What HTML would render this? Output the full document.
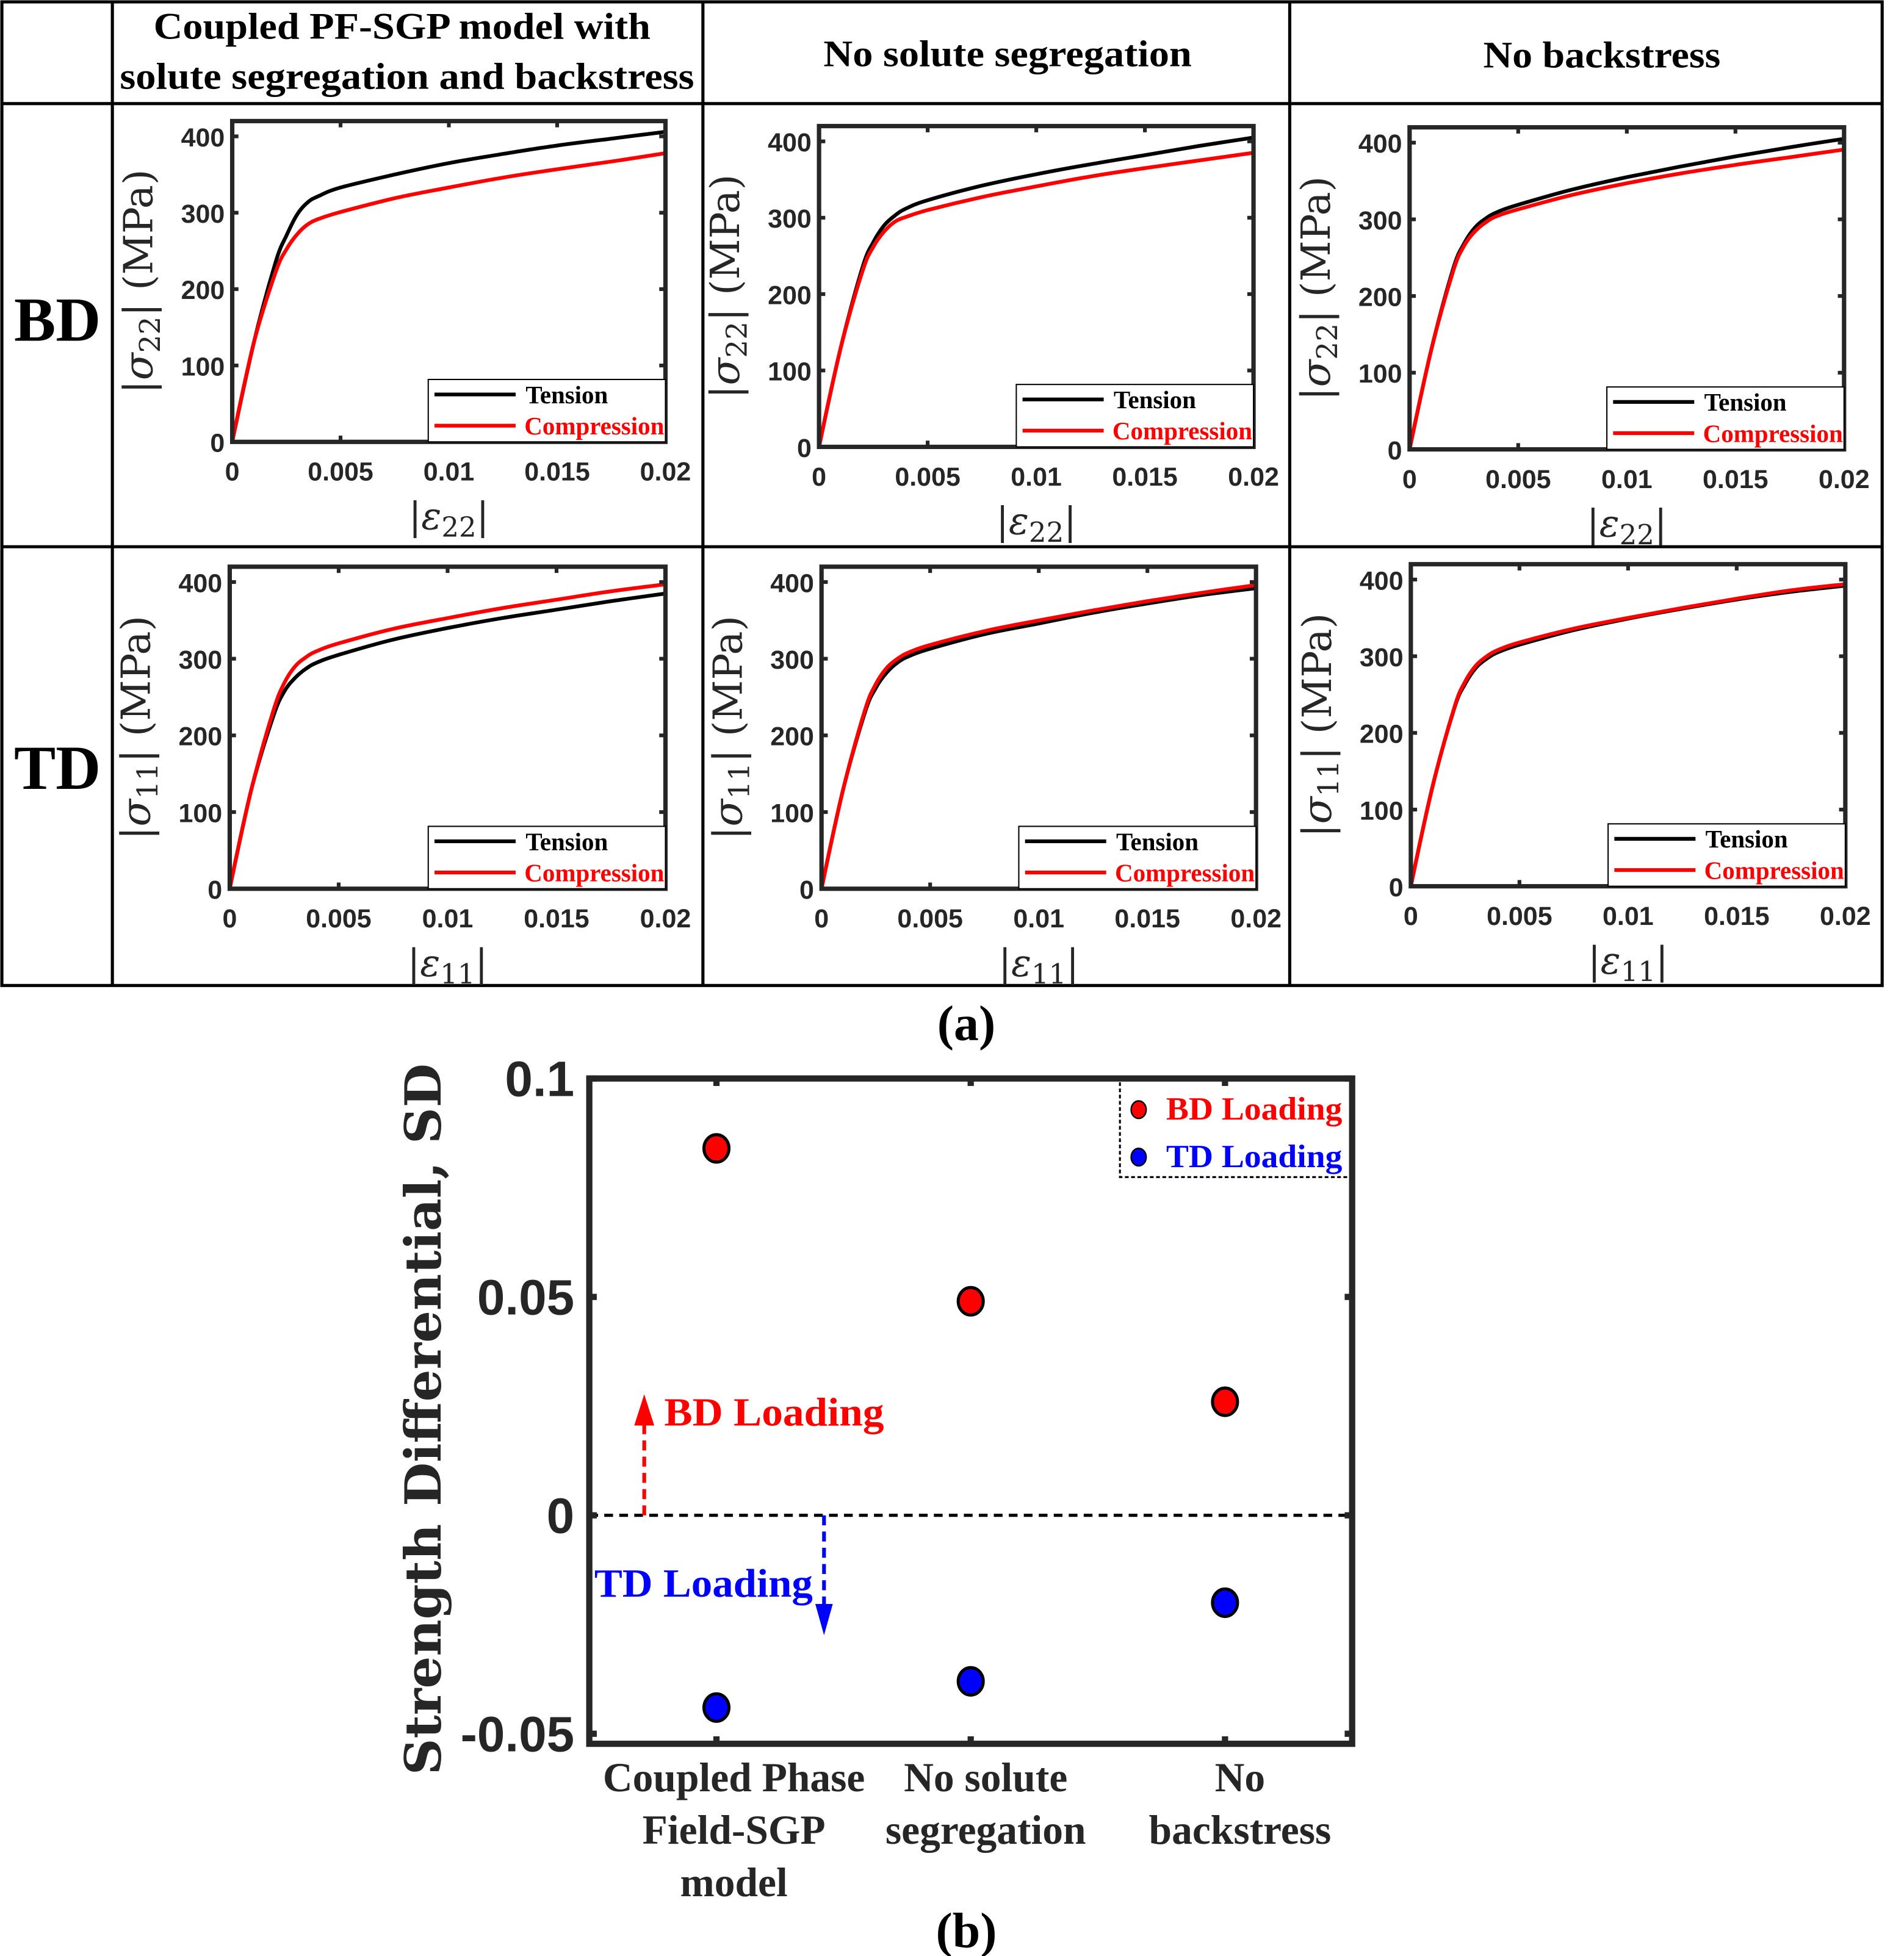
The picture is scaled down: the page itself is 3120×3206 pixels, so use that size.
<!DOCTYPE html>
<html><head><meta charset="utf-8">
<style>html,body{margin:0;padding:0;background:#fff;}svg{display:block;}</style>
</head><body>
<svg id="fig" xmlns="http://www.w3.org/2000/svg" width="3120" height="3206" viewBox="0 0 1525 1567" preserveAspectRatio="none">
<rect x="0" y="0" width="1525" height="1567" fill="#fff"/>
<g stroke="#000" stroke-width="2.5" fill="none">
<rect x="1.5" y="1.5" width="1506" height="788"/>
<line x1="90" y1="1.5" x2="90" y2="789.5"/>
<line x1="563" y1="1.5" x2="563" y2="789.5"/>
<line x1="1033" y1="1.5" x2="1033" y2="789.5"/>
<line x1="1.5" y1="83" x2="1507.5" y2="83"/>
<line x1="1.5" y1="438" x2="1507.5" y2="438"/>
</g>
<g font-family="Liberation Serif, serif" font-weight="bold" fill="#000" text-anchor="middle">
<text x="322" y="31" font-size="30" textLength="398" lengthAdjust="spacingAndGlyphs">Coupled PF-SGP model with</text>
<text x="326" y="71" font-size="30" textLength="460" lengthAdjust="spacingAndGlyphs">solute segregation and backstress</text>
<text x="807" y="53" font-size="30" textLength="295" lengthAdjust="spacingAndGlyphs">No solute segregation</text>
<text x="1283" y="54" font-size="30" textLength="190" lengthAdjust="spacingAndGlyphs">No backstress</text>
<text x="46" y="273" font-size="50">BD</text>
<text x="46" y="632" font-size="50">TD</text>
<text x="774" y="833" font-size="40">(a)</text>
<text x="774" y="1560" font-size="40">(b)</text>
</g>
<g id="panels"></g>
<g id="sdchart"></g>
</svg>
<script>
const NS='http://www.w3.org/2000/svg';
// ---------- Stress-strain data ----------
const strain=[0,0.001,0.002,0.0025,0.003,0.0035,0.004,0.005,0.0075,0.01,0.0125,0.015,0.0175,0.02];
const xTicks=[0,0.005,0.01,0.015,0.02];
const xTickLabels=['0','0.005','0.01','0.015','0.02'];
const yTicks=[0,100,200,300,400];
const bdCoupledTension=[0,130,235,270,298,314,322,333,350,365,377,388,397,406];
const bdCoupledCompression=[0,130,222,252,272,285,292,301,319,333,346,357,367,378];
const bdNoSegTension=[0,130,235,268,290,303,312,323,342,357,370,382,394,405];
const bdNoSegCompression=[0,130,230,262,282,295,301,310,327,341,354,365,375,385];
const bdNoBackTension=[0,130,235,268,289,301,309,319,339,355,369,382,394,405];
const bdNoBackCompression=[0,130,232,265,284,296,304,313,332,347,360,371,381,391];
const tdCoupledTension=[0,130,225,257,275,287,295,305,325,340,353,364,375,385];
const tdCoupledCompression=[0,130,232,268,290,302,310,320,339,353,366,377,388,397];
const tdNoSegTension=[0,130,230,262,282,295,303,313,332,346,360,372,383,392];
const tdNoSegCompression=[0,130,233,267,288,300,308,318,336,350,363,375,386,396];
const tdNoBackTension=[0,130,232,264,285,297,305,315,334,349,362,374,384,392];
const tdNoBackCompression=[0,130,233,267,288,300,308,318,336,350,363,375,386,394];

const panelDefs=[
 {name:'bd-coupled',x0:186,x1:533,y0:97,y1:354,t:bdCoupledTension,c:bdCoupledCompression,sub:'22'},
 {name:'bd-no-segregation',x0:656,x1:1004,y0:101,y1:358,t:bdNoSegTension,c:bdNoSegCompression,sub:'22'},
 {name:'bd-no-backstress',x0:1129,x1:1477,y0:102,y1:360,t:bdNoBackTension,c:bdNoBackCompression,sub:'22'},
 {name:'td-coupled',x0:184,x1:533,y0:454,y1:712,t:tdCoupledTension,c:tdCoupledCompression,sub:'11'},
 {name:'td-no-segregation',x0:658,x1:1006,y0:454,y1:712,t:tdNoSegTension,c:tdNoSegCompression,sub:'11'},
 {name:'td-no-backstress',x0:1130,x1:1478,y0:452,y1:710,t:tdNoBackTension,c:tdNoBackCompression,sub:'11'}
];
function mk(tag,attrs,parent){const e=document.createElementNS(NS,tag);for(const k in attrs)e.setAttribute(k,attrs[k]);parent.appendChild(e);return e;}
function smoothPath(pts){
 let d='M'+pts[0][0].toFixed(1)+','+pts[0][1].toFixed(1);
 for(let i=0;i<pts.length-1;i++){
  const p0=pts[Math.max(0,i-1)],p1=pts[i],p2=pts[i+1],p3=pts[Math.min(pts.length-1,i+2)];
  const k=(i==0)?0:1/6;
  const c1=[p1[0]+(p2[0]-p0[0])*k,p1[1]+(p2[1]-p0[1])*k];
  const c2=[p2[0]-(p3[0]-p1[0])/6,p2[1]-(p3[1]-p1[1])/6];
  d+='C'+c1[0].toFixed(1)+','+c1[1].toFixed(1)+' '+c2[0].toFixed(1)+','+c2[1].toFixed(1)+' '+p2[0].toFixed(1)+','+p2[1].toFixed(1);
 }
 return d;
}
const panelsG=document.getElementById('panels');
panelDefs.forEach(p=>{
 const g=mk('g',{},panelsG);
 
 
 const sx=v=>p.x0+(v-0)/(0.02-0)*(p.x1-p.x0);
 const sy=v=>p.y1-(v-0)/(420-0)*(p.y1-p.y0);
 [[p.t,'#000','tension-curve'],[p.c,'#f00','compression-curve']].forEach(([arr,col,nm])=>{
  const pts=arr.map((v,i)=>[sx(strain[i]),sy(v)]);
  const path=mk('path',{d:smoothPath(pts),fill:'none',stroke:col,'stroke-width':3,'stroke-linejoin':'round'},g);
  
  
 });
 const box=mk('rect',{x:p.x0,y:p.y0,width:p.x1-p.x0,height:p.y1-p.y0,fill:'none',stroke:'#262626','stroke-width':3.5},g);
 
 
 xTicks.forEach((v,i)=>{
  mk('line',{x1:sx(v),y1:p.y1,x2:sx(v),y2:p.y1-5,stroke:'#262626','stroke-width':3},g);
  mk('line',{x1:sx(v),y1:p.y0,x2:sx(v),y2:p.y0+5,stroke:'#262626','stroke-width':3},g);
  const t=mk('text',{x:sx(v),y:p.y1+31,'font-family':'Liberation Sans, sans-serif','font-weight':'bold','font-size':21,'text-anchor':'middle',fill:'#262626'},g);
  t.textContent=xTickLabels[i];
  
  
 });
 yTicks.forEach(v=>{
  mk('line',{x1:p.x0,y1:sy(v),x2:p.x0+5,y2:sy(v),stroke:'#262626','stroke-width':3},g);
  mk('line',{x1:p.x1,y1:sy(v),x2:p.x1-5,y2:sy(v),stroke:'#262626','stroke-width':3},g);
  const t=mk('text',{x:p.x0-6,y:sy(v)+8,'font-family':'Liberation Sans, sans-serif','font-weight':'bold','font-size':21,'text-anchor':'end',fill:'#262626'},g);
  t.textContent=String(v);
  
  
 });
 const lx=p.x1-190, ly=p.y1-50;
 const lg=mk('g',{},g);
 
 
 mk('rect',{x:lx,y:ly,width:190,height:50,fill:'#fff',stroke:'#000','stroke-width':1},lg);
 mk('line',{x1:lx+5,y1:ly+12,x2:lx+70,y2:ly+12,stroke:'#000','stroke-width':3},lg);
 mk('line',{x1:lx+5,y1:ly+37,x2:lx+70,y2:ly+37,stroke:'#f00','stroke-width':3},lg);
 const t1=mk('text',{x:lx+78,y:ly+19,'font-family':'Liberation Serif, serif','font-weight':'bold','font-size':20,fill:'#000'},lg);
 t1.textContent='Tension';
 
 
 const t2=mk('text',{x:lx+77,y:ly+44,'font-family':'Liberation Serif, serif','font-weight':'bold','font-size':20,fill:'#f00',textLength:112,lengthAdjust:'spacingAndGlyphs'},lg);
 t2.textContent='Compression';
 
 
 const xl=mk('text',{x:(p.x0+p.x1)/2,y:p.y1+70,'font-family':'DejaVu Serif, Liberation Serif, serif','font-size':30,'text-anchor':'middle',fill:'#262626'},g);
 xl.innerHTML='|<tspan font-style="italic">ε</tspan><tspan font-size="22" dy="6">'+p.sub+'</tspan><tspan dy="-6">|</tspan>';
 
 
 const cy=(p.y0+p.y1)/2, cx=p.x0-64;
 const yl=mk('text',{x:cx,y:cy,transform:'rotate(-90 '+cx+' '+cy+')','font-family':'DejaVu Serif, Liberation Serif, serif','font-size':32,'text-anchor':'middle',fill:'#262626'},g);
 yl.innerHTML='|<tspan font-style="italic">σ</tspan><tspan font-size="23" dy="6">'+p.sub+'</tspan><tspan dy="-6">|  (MPa)</tspan>';
 
 
});

// ---------- Strength differential chart ----------
const sdCategories=['Coupled Phase Field-SGP model','No solute segregation','No backstress'];
const sdBD=[0.084,0.049,0.026];
const sdTD=[-0.044,-0.038,-0.020];
const sdYTicks=[-0.05,0,0.05,0.1];
const sdYTickLabels=['-0.05','0','0.05','0.1'];
const sdCatLines=[['Coupled Phase','Field-SGP','model'],['No solute','segregation'],['No','backstress']];
(function(){
 const G=document.getElementById('sdchart');
 
 
 const X0=472,X1=1083,Y0=864,Y1=1397;
 const sx=i=>X0+(i+1-0.5)/3*(X1-X0);
 const ymin=-0.0523,ymax=0.1;
 const sy=v=>Y1-(v-ymin)/(ymax-ymin)*(Y1-Y0);
 const zl=mk('line',{x1:X0,y1:sy(0),x2:X1,y2:sy(0),stroke:'#000','stroke-width':2.5,'stroke-dasharray':'7 5'},G);
 
 
 const box=mk('rect',{x:X0,y:Y0,width:X1-X0,height:Y1-Y0,fill:'none',stroke:'#262626','stroke-width':5},G);
 
 
 sdYTicks.forEach((v,i)=>{
  mk('line',{x1:X0,y1:sy(v),x2:X0+6,y2:sy(v),stroke:'#262626','stroke-width':5},G);
  mk('line',{x1:X1,y1:sy(v),x2:X1-6,y2:sy(v),stroke:'#262626','stroke-width':5},G);
  const t=mk('text',{x:X0-12,y:sy(v)+14,'font-family':'Liberation Sans, sans-serif','font-weight':'bold','font-size':40,'text-anchor':'end',fill:'#262626'},G);
  t.textContent=sdYTickLabels[i];
  
  
 });
 sdCategories.forEach((c,i)=>{
  mk('line',{x1:sx(i),y1:Y1,x2:sx(i),y2:Y1-6,stroke:'#262626','stroke-width':5},G);
  mk('line',{x1:sx(i),y1:Y0,x2:sx(i),y2:Y0+6,stroke:'#262626','stroke-width':5},G);
  const t=mk('text',{x:sx(i)+14,y:Y1+38,'font-family':'Liberation Serif, serif','font-weight':'bold','font-size':33,'text-anchor':'middle',fill:'#262626'},G);
  t.innerHTML=sdCatLines[i].map((l,j)=>'<tspan x="'+(sx(i)+(i==0?14:12))+'" dy="'+(j?42:0)+'">'+l+'</tspan>').join('');
  
  
 });
 sdBD.forEach((v,i)=>{
  const c=mk('ellipse',{cx:sx(i),cy:sy(v),rx:10,ry:11,fill:'#f00',stroke:'#000','stroke-width':2.5},G);
  
  
 });
 sdTD.forEach((v,i)=>{
  const c=mk('ellipse',{cx:sx(i),cy:sy(v),rx:10,ry:11,fill:'#00f',stroke:'#000','stroke-width':2.5},G);
  
  
 });
 const a1=mk('g',{},G);
 
 
 mk('line',{x1:516,y1:sy(0),x2:516,y2:1138,stroke:'#f00','stroke-width':3,'stroke-dasharray':'8 5'},a1);
 mk('polygon',{points:'508,1142 516,1117 524,1142',fill:'#f00'},a1);
 const at1=mk('text',{x:532,y:1142,'font-family':'Liberation Serif, serif','font-weight':'bold','font-size':32,fill:'#f00',textLength:176,lengthAdjust:'spacingAndGlyphs'},G);
 at1.textContent='BD Loading';
 
 
 const a2=mk('g',{},G);
 
 
 mk('line',{x1:660,y1:sy(0),x2:660,y2:1288,stroke:'#00f','stroke-width':3,'stroke-dasharray':'8 5'},a2);
 mk('polygon',{points:'653,1285 660,1310 667,1285',fill:'#00f'},a2);
 const at2=mk('text',{x:476,y:1279,'font-family':'Liberation Serif, serif','font-weight':'bold','font-size':32,fill:'#00f',textLength:175,lengthAdjust:'spacingAndGlyphs'},G);
 at2.textContent='TD Loading';
 
 
 const lg=mk('g',{},G);
 
 
 mk('polyline',{points:'897,867 897,943 1081,943',fill:'none',stroke:'#000','stroke-width':1.5,'stroke-dasharray':'3 2'},lg);
 mk('ellipse',{cx:912,cy:889,rx:6,ry:7,fill:'#f00',stroke:'#000','stroke-width':1.2},lg);
 mk('ellipse',{cx:912,cy:927,rx:6,ry:7,fill:'#00f',stroke:'#000','stroke-width':1.2},lg);
 const l1=mk('text',{x:934,y:897,'font-family':'Liberation Serif, serif','font-weight':'bold','font-size':26,fill:'#f00',textLength:141,lengthAdjust:'spacingAndGlyphs'},lg);
 l1.textContent='BD Loading';
 
 
 const l2=mk('text',{x:934,y:935,'font-family':'Liberation Serif, serif','font-weight':'bold','font-size':26,fill:'#00f',textLength:141,lengthAdjust:'spacingAndGlyphs'},lg);
 l2.textContent='TD Loading';
 
 
 const yt=mk('text',{x:353,y:1137,transform:'rotate(-90 353 1137)','font-family':'DejaVu Serif, Liberation Serif, serif','font-weight':'bold','font-size':40,'text-anchor':'middle',fill:'#262626',textLength:570,lengthAdjust:'spacingAndGlyphs'},G);
 yt.textContent='Strength Differential, SD';
 
 
})();
</script>
</body></html>
